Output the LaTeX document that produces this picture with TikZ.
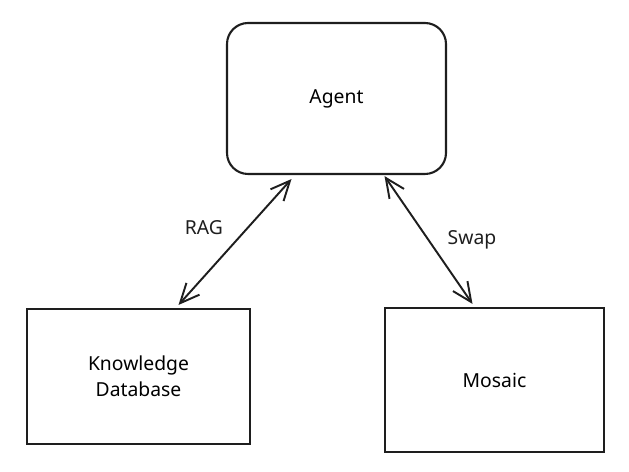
\documentclass[tikz,border=0pt]{standalone}
\usepackage{fontspec}
\setmainfont{Noto Sans}
\usepackage{tikz}
\usetikzlibrary{arrows.meta, positioning, calc}
\definecolor{inkdark}{RGB}{30,30,30}
\tikzset{
  caja/.style={rectangle, draw=inkdark, line width=1.2pt, fill=white, text centered, align=center, font=\fontsize{11}{15}\selectfont},
  cajaredonda/.style={caja, rounded corners=12pt},
  etiqueta/.style={font=\fontsize{11}{15}\selectfont, text=inkdark},
  flecha/.style={line width=1.1pt, draw=inkdark, {Straight Barb[length=11pt,width=10pt]}-{Straight Barb[length=11pt,width=10pt]}}
}
\begin{document}
\begin{tikzpicture}[x=0.02cm, y=-0.02cm]
  \useasboundingbox (0,0) rectangle (629,472);
  \node (agente) [cajaredonda, minimum width=219*0.02cm, minimum height=151*0.02cm] at (336.5,98.5) {Agent};
  \node (conocimiento) [caja, minimum width=223*0.02cm, minimum height=135*0.02cm] at (138.5,376.5) {Knowledge\\ Database};
  \node (mosaico) [caja, minimum width=219*0.02cm, minimum height=144*0.02cm] at (494.5,380) {Mosaic};
  \draw [flecha] ($(agente.south)+(-45,4)$) -- ($(conocimiento.north)+(40,-3)$);
  \draw [flecha] ($(agente.south)+(48,1)$) -- ($(mosaico.north)+(-22,-3)$);
  \node (rag) [etiqueta] at (204,228) {RAG};
  \node (swap) [etiqueta] at (472,240) {Swap};
\end{tikzpicture}
\end{document}
